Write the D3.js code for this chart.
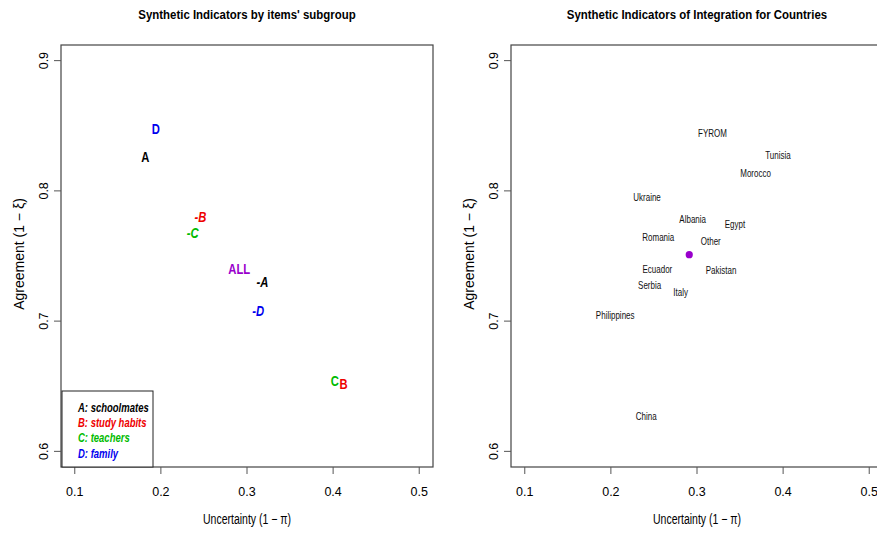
<!DOCTYPE html>
<html>
<head>
<meta charset="utf-8">
<script src="https://cdn.jsdelivr.net/npm/d3@7"></script>
<style>
body{margin:0;background:#fff;}
text{font-family:"Liberation Sans",Arial,sans-serif;}
</style>
</head>
<body>
<script>
var W = 877, H = 533;

// left panel: item subgroups
var subLabels = ["D", "A", "-B", "-C", "ALL", "-A", "-D", "C", "B"];
var subX = [0.194, 0.182, 0.246, 0.237, 0.291, 0.318, 0.313, 0.402, 0.412];
var subY = [0.848, 0.826, 0.780, 0.768, 0.740, 0.730, 0.708, 0.654, 0.652];
var subColors = ["#0000ee", "#000000", "#ee0000", "#00bb00", "#9900cc", "#000000", "#0000ee", "#00bb00", "#ee0000"];
var subItalic = [false, false, true, true, false, true, true, false, false];

var legendText = ["A: schoolmates", "B: study habits", "C: teachers", "D: family"];
var legendColors = ["#000000", "#ee0000", "#00bb00", "#0000ee"];

// right panel: countries
var countries = ["FYROM", "Tunisia", "Morocco", "Ukraine", "Albania", "Egypt", "Romania", "Other",
                 "Ecuador", "Pakistan", "Serbia", "Italy", "Philippines", "China"];
var countryX = [0.318, 0.394, 0.368, 0.242, 0.295, 0.344, 0.255, 0.316, 0.254, 0.328, 0.245, 0.281, 0.205, 0.241];
var countryY = [0.844, 0.827, 0.813, 0.795, 0.778, 0.774, 0.764, 0.761, 0.740, 0.739, 0.727, 0.722, 0.704, 0.627];
var allPoint = [0.291, 0.751];

var xTicks = [0.1, 0.2, 0.3, 0.4, 0.5];
var yTicks = [0.6, 0.7, 0.8, 0.9];

var svg = d3.select("body").append("svg")
  .attr("width", W).attr("height", H);

// narrow text: horizontal squeeze like the R device font
function narrow(px, py, sx){
  return "translate(" + px + "," + py + ") scale(" + sx + ",1)";
}

function panel(ox, title){
  var left = ox + 61, right = ox + 433, top = 45, bottom = 467;
  // R style 4% extension of the data range
  var x = d3.scaleLinear().domain([0.084, 0.516]).range([left, right]);
  var y = d3.scaleLinear().domain([0.588, 0.912]).range([bottom, top]);
  var g = svg.append("g");

  g.append("rect")
    .attr("x", left).attr("y", top)
    .attr("width", right - left).attr("height", bottom - top)
    .attr("fill", "none").attr("stroke", "#444").attr("stroke-width", 1.2);

  g.selectAll(".xt").data(xTicks).enter().append("line")
    .attr("x1", function(d){return x(d)}).attr("x2", function(d){return x(d)})
    .attr("y1", bottom).attr("y2", bottom + 7)
    .attr("stroke", "#555");
  g.selectAll(".xl").data(xTicks).enter().append("text")
    .attr("x", function(d){return x(d)}).attr("y", bottom + 29)
    .attr("text-anchor", "middle").attr("font-size", 12.5)
    .text(function(d){return d3.format(".1f")(d)});

  g.selectAll(".yt").data(yTicks).enter().append("line")
    .attr("y1", function(d){return y(d)}).attr("y2", function(d){return y(d)})
    .attr("x1", left).attr("x2", left - 7)
    .attr("stroke", "#555");
  g.selectAll(".yl").data(yTicks).enter().append("text")
    .attr("transform", function(d){return "translate(" + (ox + 48) + "," + y(d) + ") rotate(-90)"})
    .attr("text-anchor", "middle").attr("font-size", 12.5)
    .text(function(d){return d3.format(".1f")(d)});

  g.append("text")
    .attr("transform", narrow((left + right) / 2, 19, 0.88))
    .attr("text-anchor", "middle").attr("font-size", 13).attr("font-weight", "bold")
    .text(title);

  g.append("text")
    .attr("transform", narrow((left + right) / 2, 524, 0.75))
    .attr("text-anchor", "middle").attr("font-size", 14)
    .text("Uncertainty (1 \u2212 \u03c0)");

  g.append("text")
    .attr("transform", "translate(" + (ox + 24) + "," + 254 + ") rotate(-90)")
    .attr("text-anchor", "middle").attr("font-size", 14)
    .text("Agreement (1 \u2212 \u03be)");

  return {g: g, x: x, y: y, left: left, bottom: bottom};
}

// left panel
var p1 = panel(0, "Synthetic Indicators by items' subgroup");
p1.g.selectAll(".sub").data(subLabels).enter().append("text")
  .attr("transform", function(d, i){return narrow(p1.x(subX[i]), p1.y(subY[i]), 0.75)})
  .attr("dy", "0.36em")
  .attr("text-anchor", "middle")
  .attr("font-size", 15).attr("font-weight", "bold")
  .attr("font-style", function(d, i){return subItalic[i] ? "italic" : "normal"})
  .attr("fill", function(d, i){return subColors[i]})
  .text(function(d){return d});

p1.g.append("rect")
  .attr("x", p1.left + 1).attr("y", 391)
  .attr("width", 91).attr("height", p1.bottom - 391)
  .attr("fill", "#fff").attr("stroke", "#222").attr("stroke-width", 1);
p1.g.selectAll(".leg").data(legendText).enter().append("text")
  .attr("transform", function(d, i){return narrow(78, 407 + i * 15.4, 0.76)})
  .attr("dy", "0.36em")
  .attr("font-size", 12.5).attr("font-weight", "bold").attr("font-style", "italic")
  .attr("fill", function(d, i){return legendColors[i]})
  .text(function(d){return d});

// right panel
var p2 = panel(450, "Synthetic Indicators of Integration for Countries");
p2.g.selectAll(".cty").data(countries).enter().append("text")
  .attr("transform", function(d, i){return narrow(p2.x(countryX[i]), p2.y(countryY[i]), 0.8)})
  .attr("dy", "0.35em")
  .attr("text-anchor", "middle")
  .attr("font-size", 10)
  .attr("fill", "#111")
  .text(function(d){return d});
p2.g.append("circle")
  .attr("cx", p2.x(allPoint[0])).attr("cy", p2.y(allPoint[1]))
  .attr("r", 3.6).attr("fill", "#9900cc");
</script>
</body>
</html>
